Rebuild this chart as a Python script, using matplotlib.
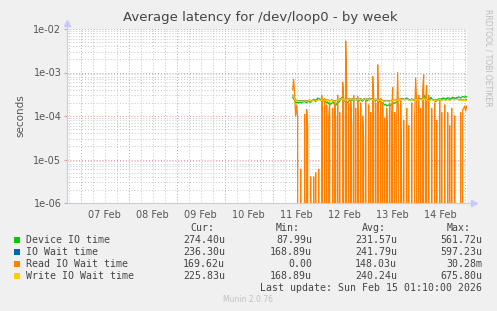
import matplotlib
matplotlib.use('Agg')
import matplotlib.pyplot as plt
import matplotlib.dates as mdates
import pandas as pd
from matplotlib.patches import Rectangle
from matplotlib.ticker import LogLocator, FuncFormatter, NullFormatter

# samples every 30 min, values in microseconds
start = '2026-02-11 10:00'

device_io = [
    270, 250, 230, 210, 200, 205, 200, 210, 205, 200, 215,
    210, 220, 205, 200, 215, 225, 210, 205, 220, 230, 240, 225, 215, 230, 260, 240, 250, 235, 225, 230,
    220, 230, 215, 200, 210, 190, 200, 185, 195, 210, 200, 180, 175, 190, 210, 205, 220, 240, 265, 250,
    230, 225, 210, 200, 205, 220, 230, 225, 240, 235,
    220, 230, 245, 235, 225, 215, 230, 240, 225, 220, 235, 250, 240, 230, 225, 240, 255, 245, 250, 240,
    230, 225, 220, 240, 230, 220, 215, 200, 195, 205,
    190, 180, 185, 170, 175, 180, 170, 175, 185, 190, 200, 195, 205, 210, 220, 225, 240, 235, 245, 250,
    240, 235, 245, 260, 250, 240, 235, 230, 245, 240,
    230, 240, 250, 235, 225, 240, 255, 245, 235, 260, 310, 280, 250, 240, 230, 220, 245, 270, 250, 240,
    230, 225, 215, 225, 240, 250, 235, 245, 250, 255,
    260, 250, 245, 255, 265, 260, 255, 250, 260, 270, 265, 260, 255, 265, 270, 275, 265, 260, 270, 280,
    275, 265, 285, 274,
]

io_wait = [
    300, 285, 255, 235, 225, 228, 224, 220, 224, 220, 224,
    224, 228, 224, 220, 224, 228, 232, 228, 224, 228, 232, 238, 234, 228, 234, 244, 238, 234, 238, 234,
    234, 238, 234, 228, 234, 228, 224, 228, 234, 228, 224, 220, 224, 228, 234, 238, 244, 248, 254, 248,
    244, 238, 234, 238, 244, 248, 244, 248, 254, 248,
    244, 238, 244, 248, 244, 238, 244, 248, 244, 238, 244, 248, 254, 248, 244, 248, 254, 248, 244, 238,
    234, 238, 244, 238, 234, 228, 234, 238, 234, 228,
    224, 220, 224, 228, 224, 220, 224, 228, 224, 228, 234, 228, 234, 238, 234, 238, 244, 238, 244, 248,
    244, 238, 244, 248, 244, 238, 234, 238, 244, 238,
    234, 238, 244, 238, 234, 238, 244, 248, 244, 238, 254, 248, 244, 238, 234, 228, 234, 238, 244, 238,
    234, 228, 234, 238, 234, 238, 244, 238, 234, 238,
    244, 238, 234, 238, 244, 238, 234, 238, 244, 248, 244, 238, 244, 248, 244, 238, 234, 238, 234, 228,
    234, 228, 234, 236,
]

read_io = [
    400, 700, 300, 100, 180, 90, 0, 0, 6, 0, 0,
    0, 110, 0, 140, 60, 0, 0, 4, 0, 0, 4, 0, 5, 0, 0, 6, 0, 0, 300, 150,
    0, 250, 0, 180, 0, 90, 200, 0, 0, 150, 0, 220, 80, 0, 300, 0, 120, 0, 0, 600,
    250, 0, 5300, 400, 0, 200, 0, 250, 60, 0,
    300, 0, 150, 0, 280, 40, 0, 200, 0, 100, 30, 0, 250, 0, 0, 180, 0, 120, 0, 800,
    300, 0, 200, 0, 1500, 100, 0, 250, 0, 200,
    0, 90, 0, 150, 20, 0, 200, 0, 120, 450, 0, 120, 0, 80, 1000, 60, 0, 250, 2, 0,
    80, 0, 0, 150, 0, 60, 0, 0, 200, 0,
    0, 100, 750, 200, 0, 300, 0, 150, 0, 400, 880, 0, 250, 500, 0, 300, 0, 0, 150, 0,
    0, 200, 0, 80, 0, 0, 250, 0, 120, 0,
    0, 180, 0, 0, 120, 0, 60, 0, 150, 0, 0, 100, 0, 0, 0, 0, 0, 120, 0, 140,
    150, 170, 130, 170,
]

write_io = [
    300, 280, 250, 230, 220, 225, 220, 215, 220, 215, 220,
    220, 225, 220, 215, 220, 225, 230, 225, 220, 225, 230, 235, 230, 225, 230, 240, 235, 230, 235, 230,
    230, 235, 230, 225, 230, 225, 220, 225, 230, 225, 220, 215, 220, 225, 230, 235, 240, 245, 250, 245,
    240, 235, 230, 235, 240, 245, 240, 245, 250, 245,
    240, 235, 240, 245, 240, 235, 240, 245, 240, 235, 240, 245, 250, 245, 240, 245, 250, 245, 240, 235,
    230, 235, 240, 235, 230, 225, 230, 235, 230, 225,
    220, 215, 220, 225, 220, 215, 220, 225, 220, 225, 230, 225, 230, 235, 230, 235, 240, 235, 240, 245,
    240, 235, 240, 245, 240, 235, 230, 235, 240, 235,
    230, 235, 240, 235, 230, 235, 240, 245, 240, 235, 250, 245, 240, 235, 230, 225, 230, 235, 240, 235,
    230, 225, 230, 235, 230, 235, 240, 235, 230, 235,
    240, 235, 230, 235, 240, 235, 230, 235, 240, 245, 240, 235, 240, 245, 240, 235, 230, 235, 230, 225,
    230, 225, 230, 226,
]

labels = ['Device IO time', 'IO Wait time', 'Read IO Wait time', 'Write IO Wait time']
colors = ['#00cc00', '#0066b3', '#ff8000', '#ffcc00']
cur = ['274.40u', '236.30u', '169.62u', '225.83u']
mins = ['87.99u', '168.89u', '0.00', '168.89u']
avgs = ['231.57u', '241.79u', '148.03u', '240.24u']
maxs = ['561.72u', '597.23u', '30.28m', '675.80u']

times = pd.date_range(start, periods=len(device_io), freq='30min')
series = [device_io, io_wait, read_io, write_io]

W, H = 497, 311
fig = plt.figure(figsize=(W / 100, H / 100), dpi=100, facecolor='#f0f0f0')
ax = fig.add_axes([67 / W, 1 - 203 / H, 400 / W, 174 / H])
ax.set_facecolor('white')

for vals, c in zip(series, colors):
    ax.plot(times, [v * 1e-6 for v in vals], color=c, linewidth=0.9)

ax.set_yscale('log')
ax.set_ylim(1e-6, 1e-2)
ax.set_xlim(pd.Timestamp('2026-02-06 17:10'), pd.Timestamp('2026-02-15 01:10'))

ax.yaxis.set_major_locator(LogLocator(base=10))
ax.yaxis.set_minor_locator(LogLocator(base=10, subs=range(2, 10)))
ax.yaxis.set_major_formatter(FuncFormatter(lambda v, p: f'{v:.0e}'))
ax.yaxis.set_minor_formatter(NullFormatter())

ax.xaxis.set_major_locator(mdates.DayLocator())
ax.xaxis.set_major_formatter(NullFormatter())
ax.xaxis.set_minor_locator(mdates.HourLocator(byhour=[6, 12, 18]))


def day_label(x, pos):
    d = mdates.num2date(x)
    return d.strftime('%d %b') if d.hour == 12 else ''


ax.xaxis.set_minor_formatter(FuncFormatter(day_label))

ax.grid(which='minor', color='#c8c8c8', linestyle=(0, (1, 2)), linewidth=0.7)
ax.grid(which='major', color='#e49a9a', linestyle=(0, (1, 2)), linewidth=0.7)
ax.set_axisbelow(True)

ax.tick_params(axis='both', which='both', length=0, labelsize=7, colors='#555555')
ax.tick_params(axis='y', which='major', length=2, color='#e49a9a', pad=2)
ax.tick_params(axis='x', which='minor', pad=5)

for s in ['top', 'right']:
    ax.spines[s].set_visible(False)
ax.spines['left'].set_color('#c8c8ff')
ax.spines['bottom'].set_color('#c8c8ff')
ax.plot([1, 1.015], [0, 0], transform=ax.transAxes, color='#c8c8ff', lw=0.8, clip_on=False)
ax.plot([0, 0], [1, 1.03], transform=ax.transAxes, color='#c8c8ff', lw=0.8, clip_on=False)
ax.plot([1.017], [0], marker='>', markersize=4, color='#c8c8ff', transform=ax.transAxes, clip_on=False)
ax.plot([0], [1.032], marker='^', markersize=4, color='#c8c8ff', transform=ax.transAxes, clip_on=False)

ax.set_ylabel('seconds', fontsize=7.5, color='#555555', labelpad=6)

fig.text(260 / W, 1 - 18 / H, 'Average latency for /dev/loop0 - by week', ha='center', va='center',
         fontsize=9.5, color='#444444')
fig.text(488 / W, 1 - 58 / H, 'RRDTOOL / TOBI OETIKER', rotation=270, ha='center', va='center',
         fontsize=5.5, color='#bbbbbb')


def ftext(x, y, s, **kw):
    fig.text(x / W, 1 - y / H, s, va='center', family='DejaVu Sans Mono', fontsize=7.1,
             color='#444444', **kw)


ftext(190, 228, 'Cur:')
ftext(276, 228, 'Min:')
ftext(362, 228, 'Avg:')
ftext(447, 228, 'Max:')
rows_y = [240, 252, 264, 276]
for i, y in enumerate(rows_y):
    fig.patches.append(Rectangle((14 / W, 1 - (y + 3) / H), 6 / W, 6 / H, transform=fig.transFigure,
                                 facecolor=colors[i], edgecolor='none'))
    ftext(26, y, labels[i])
    ftext(225, y, cur[i], ha='right')
    ftext(312, y, mins[i], ha='right')
    ftext(397, y, avgs[i], ha='right')
    ftext(482, y, maxs[i], ha='right')

ftext(482, 288, 'Last update: Sun Feb 15 01:10:00 2026', ha='right')
fig.text(248 / W, 1 - 299 / H, 'Munin 2.0.76', ha='center', va='center', fontsize=5.5, color='#c0c0c0')

fig.savefig('out.png', dpi=100, facecolor=fig.get_facecolor())
